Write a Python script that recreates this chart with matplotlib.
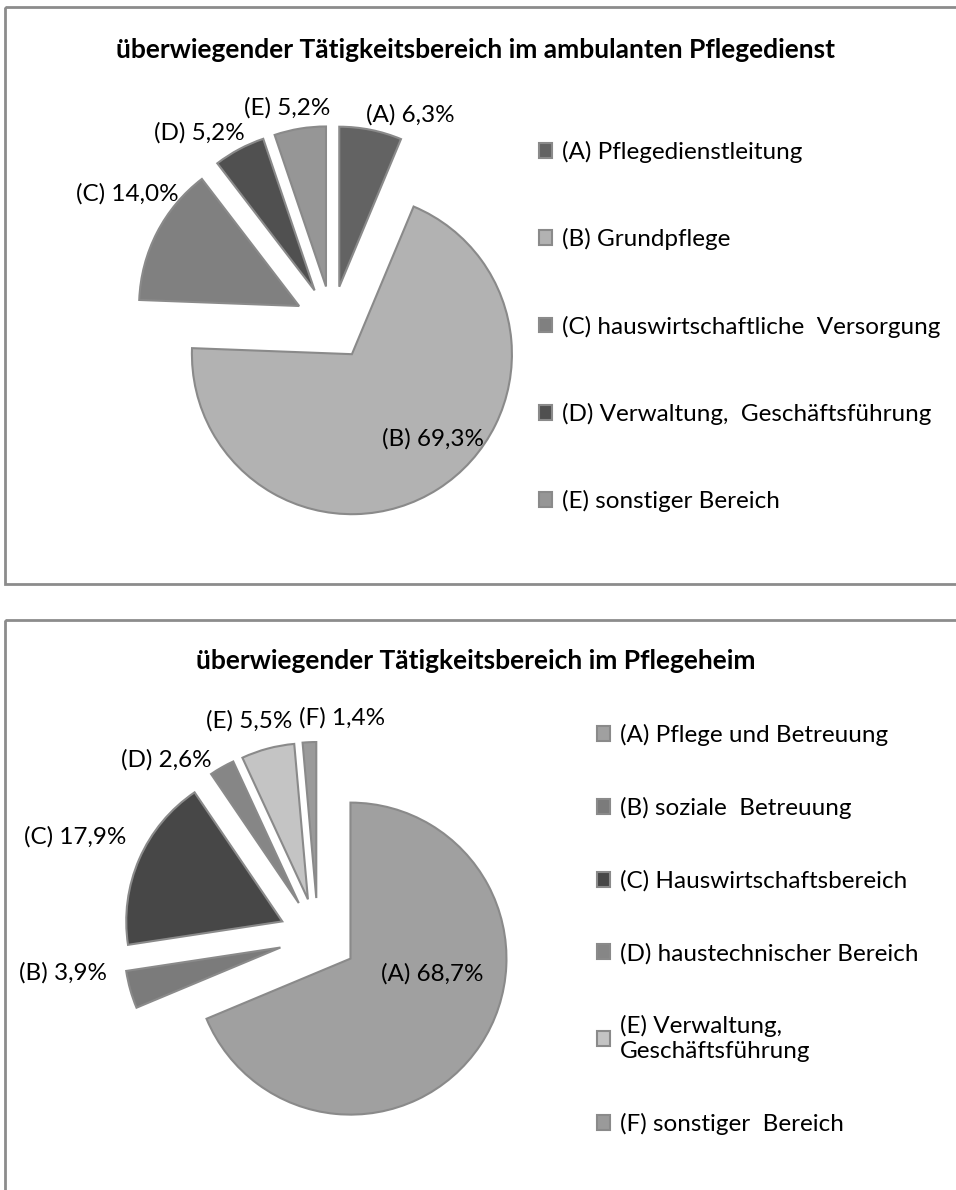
import matplotlib.pyplot as plt

plt.rcParams['font.family'] = ['Lato', 'DejaVu Sans']

# obere Grafik: ambulanter Pflegedienst
amb_labels = ['(A) Pflegedienstleitung', '(B) Grundpflege',
              '(C) hauswirtschaftliche  Versorgung',
              '(D) Verwaltung,  Geschäftsführung', '(E) sonstiger Bereich']
amb_short = ['(A)', '(B)', '(C)', '(D)', '(E)']
amb_values = [6.3, 69.3, 14.0, 5.2, 5.2]
amb_colors = ['#636363', '#b2b2b2', '#808080', '#505050', '#969696']

# untere Grafik: Pflegeheim
heim_labels = ['(A) Pflege und Betreuung', '(B) soziale  Betreuung',
               '(C) Hauswirtschaftsbereich', '(D) haustechnischer Bereich',
               '(E) Verwaltung,\nGeschäftsführung', '(F) sonstiger  Bereich']
heim_short = ['(A)', '(B)', '(C)', '(D)', '(E)', '(F)']
heim_values = [68.7, 3.9, 17.9, 2.6, 5.5, 1.4]
heim_colors = ['#a0a0a0', '#7b7b7b', '#474747', '#868686', '#c4c4c4', '#9a9a9a']

W, H = 956, 1190
fig = plt.figure(figsize=(W / 100, H / 100), dpi=100)
ax = fig.add_axes([0, 0, 1, 1])

# Rahmen der beiden Diagrammbereiche
for top, bottom in [(7, 584), (620, 1300)]:
    ax.add_patch(plt.Rectangle((5, top), 1000, bottom - top, fill=False,
                               edgecolor='#8c8c8c', linewidth=2))

edge = dict(edgecolor='#8a8a8a', linewidth=1.5)

# y-Achse wird umgedreht: startangle=-90 zeigt nach oben, counterclock=True -> im Uhrzeigersinn
# explode ist hier in Pixeln (Datenkoordinaten)
w_amb, _ = ax.pie(amb_values, colors=amb_colors, startangle=-90, counterclock=True,
                  explode=[37] * 5, center=(332, 323), radius=160,
                  wedgeprops=edge, frame=True)
w_heim, _ = ax.pie(heim_values, colors=heim_colors, startangle=-90, counterclock=True,
                   explode=[39] * 6, center=(318, 937), radius=156,
                   wedgeprops=edge, frame=True)
ax.set_xlim(0, W)
ax.set_ylim(H, 0)
ax.set_aspect('equal')
ax.axis('off')

fs = 17.5
ax.text(476, 50, 'überwiegender Tätigkeitsbereich im ambulanten Pflegedienst',
        ha='center', va='center', fontsize=19, fontweight='bold')
ax.text(476, 661, 'überwiegender Tätigkeitsbereich im Pflegeheim',
        ha='center', va='center', fontsize=19, fontweight='bold')

def pct(v):
    return f'{v:.1f}%'.replace('.', ',')

amb_pos = [(410, 115), (433, 439), (127, 194), (199, 133), (287, 108)]
for s, v, (x, y) in zip(amb_short, amb_values, amb_pos):
    ax.text(x, y, f'{s} {pct(v)}', ha='center', va='center', fontsize=fs)

heim_pos = [(432, 974), (63, 973), (75, 837), (166, 760), (249, 721), (342, 718)]
for s, v, (x, y) in zip(heim_short, heim_values, heim_pos):
    ax.text(x, y, f'{s} {pct(v)}', ha='center', va='center', fontsize=fs)

leg1 = ax.legend(w_amb, amb_labels, loc='upper left', bbox_to_anchor=(539, 141),
                 bbox_transform=ax.transData, frameon=False, fontsize=fs,
                 handlelength=0.55, handleheight=0.55, handletextpad=0.4,
                 labelspacing=2.68, borderpad=0, borderaxespad=0)
ax.add_artist(leg1)
ax.legend(w_heim, heim_labels, loc='upper left', bbox_to_anchor=(597, 724),
          bbox_transform=ax.transData, frameon=False, fontsize=fs,
          handlelength=0.55, handleheight=0.55, handletextpad=0.4,
          labelspacing=2.1, borderpad=0, borderaxespad=0)

fig.savefig('out.png', dpi=100)
